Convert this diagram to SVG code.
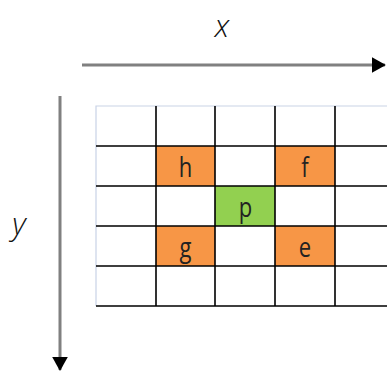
<svg xmlns="http://www.w3.org/2000/svg" width="387" height="372" viewBox="0 0 387 372">
<style>
.axis{stroke:#808080;stroke-width:3;fill:none}
.grid{stroke:#000;stroke-width:1.6;fill:none}
.border{stroke:#c9d3e6;stroke-width:1.2;fill:none}
.or{fill:#f79646}
.gr{fill:#92d050}
.lbl{font-family:"Open Sans","Liberation Sans",sans-serif;font-size:22px;fill:#222;text-anchor:middle}
.ax{font-family:"Open Sans","Liberation Sans",sans-serif;font-style:italic;font-weight:300;font-size:31px;fill:#111;text-anchor:middle}
</style>
<defs>
<marker id="ah" markerWidth="5" markerHeight="5.4" refX="4.5" refY="2.7" orient="auto" markerUnits="strokeWidth">
<path d="M0,0 L4.8,2.7 L0,5.4 Z" fill="#000"/>
</marker>
</defs>
<rect width="387" height="372" fill="#fff"/>
<g id="axes">
<line class="axis" x1="82" y1="65" x2="385" y2="65" marker-end="url(#ah)"/>
<line class="axis" x1="60" y1="96" x2="60" y2="370" marker-end="url(#ah)"/>
<text class="ax" x="222" y="37">x</text>
<text class="ax" x="19" y="235">y</text>
</g>
<g id="cells">
<g id="h"><rect class="or" x="156" y="146" width="59" height="40"/><text class="lbl" transform="translate(185.5,177) scale(1,1.25)">h</text></g>
<g id="f"><rect class="or" x="275" y="146" width="60" height="40"/><text class="lbl" transform="translate(305,177) scale(1,1.25)">f</text></g>
<g id="p"><rect class="gr" x="215" y="186" width="60" height="40"/><text class="lbl" transform="translate(245.5,216.5) scale(1,1.25)">p</text></g>
<g id="g"><rect class="or" x="156" y="226" width="59" height="40"/><text class="lbl" transform="translate(185.5,256.5) scale(1,1.25)">g</text></g>
<g id="e"><rect class="or" x="275" y="226" width="60" height="40"/><text class="lbl" transform="translate(305,257) scale(1,1.25)">e</text></g>
</g>
<g id="grid">
<path class="border" d="M96,306 V106 H387"/>
<path class="grid" d="M96,146 H387 M96,186 H387 M96,226 H387 M96,266 H387 M96,306 H387 M156,106 V306 M215,106 V306 M275,106 V306 M335,106 V306"/>
</g>
</svg>
